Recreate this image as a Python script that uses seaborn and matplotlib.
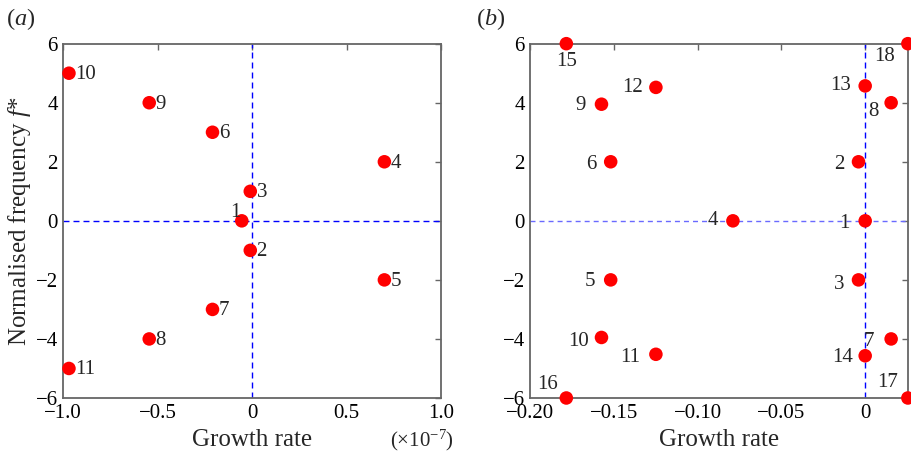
import matplotlib
matplotlib.use("Agg")
import matplotlib.pyplot as plt
import seaborn as sns
import pandas as pd

# ---------------- data ----------------
# panel (a): growth rate in units of 1e-7, normalised frequency
a_ids = [1, 2, 3, 4, 5, 6, 7, 8, 9, 10, 11]
a_growth = [-0.055, -0.01, -0.01, 0.70, 0.70, -0.21, -0.21, -0.545, -0.545, -0.97, -0.97]
a_freq = [0, -1, 1, 2, -2, 3, -3, -4, 4, 5, -5]

# panel (b)
b_ids = [1, 2, 3, 4, 5, 6, 7, 8, 9, 10, 11, 12, 13, 14, 15, 16, 17, 18]
b_growth = [0.0, -0.004, -0.004, -0.079, -0.152, -0.152, 0.0155, 0.0155,
            -0.1575, -0.1575, -0.125, -0.125, 0.0, 0.0, -0.1785, -0.1785, 0.0255, 0.0255]
b_freq = [0, 2, -2, 0, -2, 2, -4, 4, 3.95, -3.95, -4.52, 4.52, 4.57, -4.57, 6, -6, -6, 6]

a_xticks = [-1.0, -0.5, 0, 0.5, 1.0]
a_xticklabels = ["\u22121.0", "\u22120.5", "0", "0.5", "1.0"]
b_xticks = [-0.20, -0.15, -0.10, -0.05, 0]
b_xticklabels = ["\u22120.20", "\u22120.15", "\u22120.10", "\u22120.05", "0"]
yticks = [-6, -4, -2, 0, 2, 4, 6]
yticklabels = ["\u22126", "\u22124", "\u22122", "0", "2", "4", "6"]

# label placement (offset in points, horizontal alignment)
a_label_pos = {1: (-1, 6, "right")}
a_default_pos = (4.5, -1, "left")
b_label_pos = {
    1: (-11, -2, "right"), 2: (-10, -2, "right"), 3: (-10, -3, "right"),
    4: (-11, 0, "right"), 5: (-11, -1, "right"), 6: (-10, -2, "right"),
    7: (-12, -2, "right"), 8: (-9, -6, "right"), 9: (-11, -1, "right"),
    10: (-9, -3, "right"), 11: (-11, -2, "right"), 12: (-9, 0, "right"),
    13: (-10, 0, "right"), 14: (-9, -1, "right"), 15: (0, -13, "center"),
    16: (-6, 10, "right"), 17: (-7, 11, "right"), 18: (-9, -9, "right"),
}

# ---------------- style ----------------
sns.set_theme(style="white")
plt.rcParams["font.family"] = ["Liberation Serif", "DejaVu Serif"]
plt.rcParams["mathtext.fontset"] = "custom"
plt.rcParams["mathtext.rm"] = "Liberation Serif"
plt.rcParams["mathtext.it"] = "Liberation Serif:italic"
plt.rcParams["axes.unicode_minus"] = True

spine_col = "#666666"
tick_fs = 15
label_fs = 18

fig = plt.figure(figsize=(9.12, 4.55), dpi=100)
axA = fig.add_axes([0.0694, 0.1253, 0.4142, 0.7787])
axB = fig.add_axes([0.5815, 0.1253, 0.4138, 0.7787])

dfA = pd.DataFrame({"g": a_growth, "f": a_freq, "id": a_ids})
dfB = pd.DataFrame({"g": b_growth, "f": b_freq, "id": b_ids})


def style_axis(ax):
    for s in ax.spines.values():
        s.set_color(spine_col)
        s.set_linewidth(1.3)
        s.set_visible(True)
    ax.tick_params(direction="in", length=4, width=1.0, color=spine_col,
                   top=True, right=True, labelsize=tick_fs, labelcolor="black",
                   pad=4)
    ax.set_yticks(yticks)
    ax.set_yticklabels(yticklabels)
    ax.set_ylim(-6, 6)


# panel (a)
axA.axhline(0, color="blue", ls=(0, (4.3, 2.9)), lw=1.0, zorder=1)
axA.axvline(0, color="blue", ls=(0, (4.3, 2.9)), lw=1.0, zorder=1)
sns.scatterplot(data=dfA, x="g", y="f", ax=axA, color="#ff0000", s=95,
                edgecolor="none", zorder=3, clip_on=False, legend=False)
for i, g, f in zip(a_ids, a_growth, a_freq):
    dx, dy, ha = a_label_pos.get(i, a_default_pos)
    axA.annotate(str(i), (g, f), xytext=(dx, dy), textcoords="offset points",
                 ha=ha, va="center", fontsize=tick_fs, zorder=4)
axA.set_xlim(-1, 1)
axA.set_xticks(a_xticks)
axA.set_xticklabels(a_xticklabels)
style_axis(axA)
axA.set_xlabel("Growth rate", fontsize=label_fs, labelpad=5)
axA.set_ylabel("Normalised frequency $f$*", fontsize=label_fs, labelpad=2)
axA.text(0.95, -0.12, r"($\times$10$^{-7}$)", transform=axA.transAxes,
         ha="center", va="center", fontsize=15)
fig.text(0.007, 0.958, "($a$)", fontsize=17.5, ha="left", va="center")

# panel (b)
axB.axhline(0, color="#6a6aff", ls=(0, (3.6, 2.9)), lw=1.0, zorder=1)
axB.axvline(0, color="blue", ls=(0, (4.3, 2.9)), lw=1.0, zorder=1)
sns.scatterplot(data=dfB, x="g", y="f", ax=axB, color="#ff0000", s=95,
                edgecolor="none", zorder=3, clip_on=False, legend=False)
for i, g, f in zip(b_ids, b_growth, b_freq):
    dx, dy, ha = b_label_pos[i]
    axB.annotate(str(i), (g, f), xytext=(dx, dy), textcoords="offset points",
                 ha=ha, va="center", fontsize=tick_fs, zorder=4,
                 annotation_clip=False)
axB.set_xlim(-0.2, 0.0254)
axB.set_xticks(b_xticks)
axB.set_xticklabels(b_xticklabels)
style_axis(axB)
axB.set_xlabel("Growth rate", fontsize=label_fs, labelpad=5)
axB.set_ylabel("")
fig.text(0.522, 0.958, "($b$)", fontsize=17.5, ha="left", va="center")

fig.savefig("out.png", dpi=100)
